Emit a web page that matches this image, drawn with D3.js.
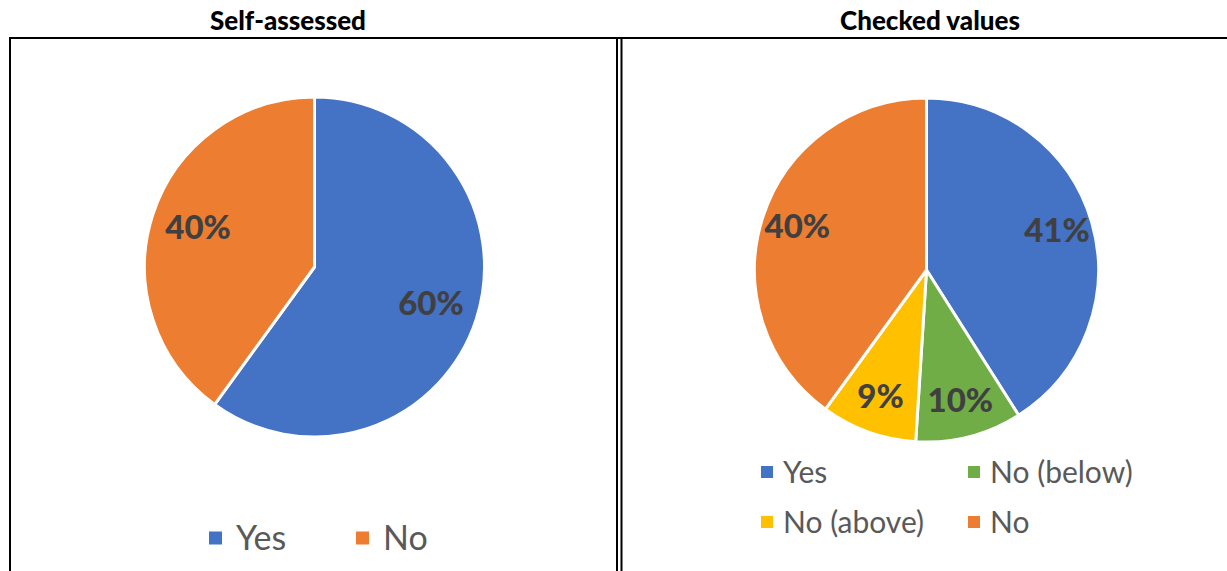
<!DOCTYPE html>
<html>
<head>
<meta charset="utf-8">
<script src="https://cdn.jsdelivr.net/npm/d3@7"></script>
<style>
  body { margin: 0; background: #fff; }
  svg { display: block; }
</style>
</head>
<body>
<div></div>
<script>
const WIDTH = 1227;
const HEIGHT = 571;

// data
const leftTitle = 'Self-assessed';
const leftCategories = ['Yes', 'No'];
const leftValues = [60, 40];
const leftColors = ['#4472C4', '#ED7D31'];

const rightTitle = 'Checked values';
const rightCategories = ['Yes', 'No (below)', 'No (above)', 'No'];
const rightValues = [41, 10, 9, 40];
const rightColors = ['#4472C4', '#70AD47', '#FFC000', '#ED7D31'];

const svg = d3.select('div').append('svg')
    .attr('width', WIDTH)
    .attr('height', HEIGHT);

// table borders
const borders = svg.append('g').attr('stroke', '#000').attr('stroke-width', 2).attr('fill', 'none');
borders.append('line').attr('x1', 9).attr('x2', WIDTH).attr('y1', 38).attr('y2', 38);
borders.append('line').attr('x1', 10).attr('x2', 10).attr('y1', 37).attr('y2', HEIGHT);
borders.append('line').attr('x1', 617).attr('x2', 617).attr('y1', 37).attr('y2', HEIGHT);
borders.append('line').attr('x1', 621.5).attr('x2', 621.5).attr('y1', 37).attr('y2', HEIGHT);

// titles
function drawTitle(x, text) {
    svg.append('text')
        .attr('x', x).attr('y', 30)
        .attr('text-anchor', 'middle')
        .style('font-family', 'Lato, sans-serif')
        .style('font-weight', 900)
        .style('font-size', '26px')
        .text(text);
}
drawTitle(288, leftTitle);
drawTitle(930, rightTitle);

function drawPie(cx, cy, r, values, colors, labelFactor) {
    const pie = d3.pie().sort(null).value(d => d);
    const arc = d3.arc().innerRadius(0).outerRadius(r);
    const labelArc = d3.arc().innerRadius(r * labelFactor).outerRadius(r * labelFactor);
    const g = svg.append('g').attr('transform', 'translate(' + cx + ',' + cy + ')');
    const arcs = pie(values);
    g.selectAll('path')
        .data(arcs)
        .enter().append('path')
        .attr('d', arc)
        .attr('fill', (d, i) => colors[i])
        .attr('stroke', '#fff')
        .attr('stroke-width', 3)
        .attr('stroke-linejoin', 'round');
    g.selectAll('text')
        .data(arcs)
        .enter().append('text')
        .attr('transform', d => 'translate(' + labelArc.centroid(d) + ')')
        .attr('text-anchor', 'middle')
        .attr('dy', '0.3em')
        .style('font-family', 'Lato, sans-serif')
        .style('font-weight', 900)
        .style('font-size', '33px')
        .attr('fill', '#404040')
        .text(d => d.data + '%');
}

drawPie(314.5, 267, 170, leftValues, leftColors, 0.72);
drawPie(926.5, 270, 172, rightValues, rightColors, 0.79);

function drawLegend(items, colors, positions, fontSize, box, gap) {
    const g = svg.append('g');
    const item = g.selectAll('g')
        .data(items)
        .enter().append('g')
        .attr('transform', (d, i) => 'translate(' + positions[i][0] + ',' + positions[i][1] + ')');
    item.append('rect')
        .attr('x', 0).attr('y', -box / 2)
        .attr('width', box).attr('height', box)
        .attr('fill', (d, i) => colors[i]);
    item.append('text')
        .attr('x', box + gap)
        .attr('dy', '0.36em')
        .style('font-family', 'Lato, sans-serif')
        .style('font-size', fontSize + 'px')
        .attr('fill', '#595959')
        .text(d => d);
}

drawLegend(leftCategories, leftColors, [[209, 538], [356, 538]], 34, 13, 14);
drawLegend(rightCategories, rightColors, [[761, 472], [968, 472], [761, 522], [968, 522]], 30, 12, 10);
</script>
</body>
</html>
